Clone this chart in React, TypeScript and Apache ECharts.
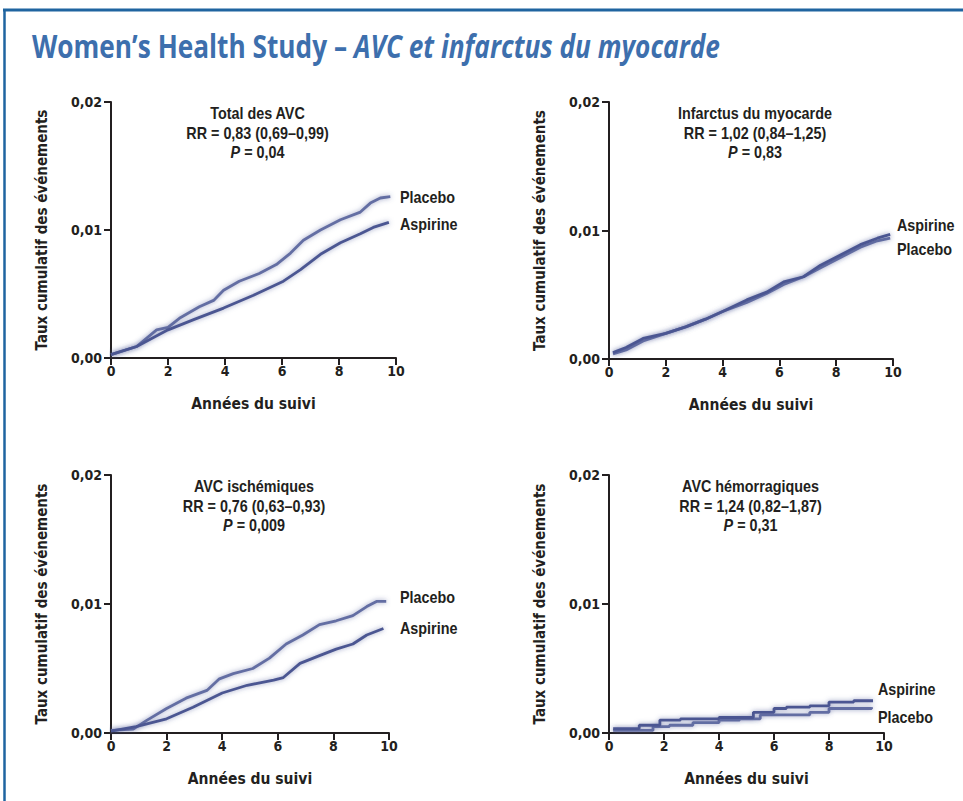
import React, { useEffect, useRef } from "react";
import * as echarts from "echarts";

// ---------- DATA ----------
const yTicks = [0, 0.01, 0.02];
const xTicks = [0, 2, 4, 6, 8, 10];

const panelTitles = ["Total des AVC", "Infarctus du myocarde", "AVC ischémiques", "AVC hémorragiques"];
const rrTexts = [
  "RR = 0,83 (0,69–0,99)",
  "RR = 1,02 (0,84–1,25)",
  "RR = 0,76 (0,63–0,93)",
  "RR = 1,24 (0,82–1,87)",
];
const pTexts = ["0,04", "0,83", "0,009", "0,31"];

// Panel 1 — Total des AVC
const p1PlaceboX = [0, 0.9, 1.6, 2.0, 2.4, 3.1, 3.6, 3.95, 4.5, 5.2, 5.8, 6.3, 6.75, 7.35, 8.05, 8.75, 9.1, 9.45, 9.8];
const p1PlaceboY = [0.00026, 0.0009, 0.0022, 0.0024, 0.0031, 0.004, 0.0045, 0.0053, 0.006, 0.0066, 0.0073, 0.0082, 0.0092, 0.01, 0.0108, 0.0114, 0.0121, 0.0125, 0.0126];
const p1AspirinX = [0, 0.9, 2.0, 2.9, 3.95, 5.0, 6.05, 6.65, 7.35, 8.05, 8.75, 9.2, 9.75];
const p1AspirinY = [0.00026, 0.0009, 0.0022, 0.003, 0.0039, 0.0049, 0.006, 0.0069, 0.0081, 0.009, 0.0097, 0.0102, 0.0106];

// Panel 2 — Infarctus du myocarde
const p2PlaceboX = [0.14, 0.6, 1.2, 2.0, 2.7, 3.4, 4.0, 4.85, 5.55, 6.15, 6.85, 7.45, 8.15, 8.85, 9.45, 9.9];
const p2PlaceboY = [0.0004, 0.0007, 0.0014, 0.002, 0.0025, 0.0031, 0.0037, 0.0044, 0.0051, 0.0058, 0.0064, 0.0071, 0.0079, 0.0087, 0.0092, 0.0094];
const p2AspirinX = [0.14, 0.6, 1.2, 2.0, 2.7, 3.4, 4.0, 4.85, 5.55, 6.15, 6.85, 7.45, 8.15, 8.85, 9.45, 9.9];
const p2AspirinY = [0.0005, 0.0009, 0.0016, 0.002, 0.0025, 0.0031, 0.0037, 0.0046, 0.0052, 0.006, 0.0064, 0.0073, 0.0081, 0.0089, 0.0094, 0.0097];

// Panel 3 — AVC ischémiques
const p3PlaceboX = [0, 0.8, 1.3, 2.0, 2.7, 3.45, 3.9, 4.4, 5.1, 5.7, 6.3, 6.9, 7.5, 8.1, 8.7, 9.2, 9.55, 9.9];
const p3PlaceboY = [0.0002, 0.0003, 0.001, 0.0019, 0.0027, 0.0033, 0.0042, 0.0046, 0.005, 0.0058, 0.0069, 0.0076, 0.0084, 0.0087, 0.0091, 0.0098, 0.0102, 0.0102];
const p3AspirinX = [0, 0.9, 2.0, 2.95, 4.0, 4.9, 5.85, 6.2, 6.8, 7.5, 8.1, 8.7, 9.2, 9.8];
const p3AspirinY = [0.00015, 0.0005, 0.0011, 0.002, 0.0031, 0.0037, 0.0041, 0.0043, 0.0054, 0.006, 0.0065, 0.0069, 0.0076, 0.0081];

// Panel 4 — AVC hémorragiques
const p4PlaceboX = [0.15, 1.6, 2.2, 3.05, 4.0, 4.75, 5.5, 6.45, 7.3, 8.0, 8.9, 9.55];
const p4PlaceboY = [0.0002, 0.0005, 0.0006, 0.0008, 0.001, 0.0011, 0.0014, 0.0014, 0.0016, 0.0019, 0.0019, 0.002];
const p4AspirinX = [0.15, 1.1, 1.85, 2.6, 4.0, 5.25, 6.0, 6.45, 7.3, 8.0, 8.9, 9.6];
const p4AspirinY = [0.00034, 0.0006, 0.001, 0.0011, 0.0012, 0.0016, 0.0019, 0.002, 0.0021, 0.0024, 0.0025, 0.0025];

const zip = (xs: number[], ys: number[]) => xs.map((x, i) => [x, ys[i]]);

const AXFONT = "'DejaVu Sans Condensed','Liberation Sans',sans-serif";
const GFONT = "'Liberation Sans','Arial',sans-serif";
const TFONT = "'Open Sans','Noto Sans',sans-serif";
const INK = "#231f20";
const LINE = "#4b5792";
const LINE_P = "#646ea3";
const SX = 0.87; // horizontal condensing for graphic texts

const grids = [
  { left: 111, top: 102, width: 285, height: 256 },
  { left: 609, top: 102, width: 284, height: 257 },
  { left: 111, top: 475, width: 278, height: 258 },
  { left: 609, top: 475, width: 275, height: 258 },
];

const labelPos = [
  [{ t: "Placebo", x: 400, y: 197 }, { t: "Aspirine", x: 400, y: 224 }],
  [{ t: "Aspirine", x: 897, y: 225 }, { t: "Placebo", x: 897, y: 249 }],
  [{ t: "Placebo", x: 400, y: 597 }, { t: "Aspirine", x: 400, y: 628 }],
  [{ t: "Aspirine", x: 878, y: 689 }, { t: "Placebo", x: 878, y: 717 }],
];

const seriesData = [
  [zip(p1PlaceboX, p1PlaceboY), zip(p1AspirinX, p1AspirinY)],
  [zip(p2PlaceboX, p2PlaceboY), zip(p2AspirinX, p2AspirinY)],
  [zip(p3PlaceboX, p3PlaceboY), zip(p3AspirinX, p3AspirinY)],
  [zip(p4PlaceboX, p4PlaceboY), zip(p4AspirinX, p4AspirinY)],
];

export default function App() {
  const ref = useRef<HTMLDivElement>(null);
  useEffect(() => {
    if (!ref.current) return;
    const chart = echarts.init(ref.current, undefined, { renderer: "svg" });

    const xAxis = grids.map((_, i) => ({
      type: "value",
      gridIndex: i,
      min: 0,
      max: 10,
      interval: 2,
      name: "Années du suivi",
      nameLocation: "middle",
      nameGap: 38,
      nameTextStyle: { fontFamily: AXFONT, fontWeight: "bold", fontSize: 15.5, color: INK },
      axisLine: { show: true, lineStyle: { color: INK, width: 2 } },
      axisTick: { show: true, length: 7, lineStyle: { color: INK, width: 2 } },
      axisLabel: { fontFamily: AXFONT, fontWeight: "bold", fontSize: 14, color: INK, margin: 6 },
      splitLine: { show: false },
    }));
    const yAxis = grids.map((_, i) => ({
      type: "value",
      gridIndex: i,
      min: 0,
      max: 0.02,
      interval: 0.01,
      name: "Taux cumulatif des événements",
      nameLocation: "middle",
      nameGap: 62,
      nameTextStyle: { fontFamily: AXFONT, fontWeight: "bold", fontSize: 15, color: INK },
      axisLine: { show: true, lineStyle: { color: INK, width: 2 } },
      axisTick: { show: true, length: 7, lineStyle: { color: INK, width: 2 } },
      axisLabel: {
        fontFamily: AXFONT,
        fontWeight: "bold",
        fontSize: 14,
        color: INK,
        margin: 9,
        formatter: (v: number) => v.toFixed(2).replace(".", ","),
      },
      splitLine: { show: false },
    }));

    const series: any[] = [];
    seriesData.forEach((pair, i) => {
      pair.forEach((data, j) => {
        series.push({
          type: "line",
          name: j === 0 ? "Placebo" : "Aspirine",
          xAxisIndex: i,
          yAxisIndex: i,
          data,
          showSymbol: false,
          step: i === 3 ? "end" : undefined,
          lineStyle: {
            color: j === 0 ? LINE_P : LINE,
            width: 2.8,
            shadowBlur: 5,
            shadowColor: "rgba(80,90,150,0.6)",
          },
          silent: true,
        });
      });
    });

    const graphic: any[] = [
      { type: "line", shape: { x1: 3, y1: 10, x2: 963, y2: 10 }, style: { stroke: "#1f64a0", lineWidth: 3 } },
      { type: "line", shape: { x1: 4.5, y1: 9, x2: 4.5, y2: 801 }, style: { stroke: "#1f64a0", lineWidth: 2.5 } },
      {
        type: "text",
        x: 32,
        y: 30,
        scaleX: 0.82,
        style: {
          text: "{n|Women’s Health Study – }{i|AVC et infarctus du myocarde}",
          rich: {
            n: { fontFamily: TFONT, fontWeight: "bold", fontSize: 32, fill: "#3d6fad" },
            i: { fontFamily: TFONT, fontWeight: "bold", fontStyle: "italic", fontSize: 32, fill: "#3d6fad" },
          },
        },
      },
    ];

    grids.forEach((g, i) => {
      const cx = g.left + g.width / 2 + 4;
      const baseY = g.top + 3;
      const ts = { fontFamily: GFONT, fontWeight: "bold", fontSize: 16.5, fill: INK };
      graphic.push({ type: "text", x: cx, y: baseY, scaleX: SX, style: { ...ts, text: panelTitles[i], align: "center", verticalAlign: "top" } });
      graphic.push({ type: "text", x: cx, y: baseY + 19.5, scaleX: SX, style: { ...ts, text: rrTexts[i], align: "center", verticalAlign: "top" } });
      graphic.push({
        type: "text",
        x: cx,
        y: baseY + 39,
        scaleX: SX,
        style: {
          text: "{i|P} = " + pTexts[i],
          align: "center",
          verticalAlign: "top",
          ...ts,
          rich: { i: { ...ts, fontStyle: "italic" } },
        },
      });
      labelPos[i].forEach((l) => {
        graphic.push({ type: "text", x: l.x, y: l.y, scaleX: SX, style: { ...ts, text: l.t, align: "left", verticalAlign: "middle" } });
      });
    });

    chart.setOption({
      animation: false,
      backgroundColor: "#ffffff",
      grid: grids,
      xAxis,
      yAxis,
      series,
      graphic,
    });
    return () => chart.dispose();
  }, []);
  return <div ref={ref} style={{ position: "fixed", left: 0, top: 0, width: 963, height: 801 }} />;
}
